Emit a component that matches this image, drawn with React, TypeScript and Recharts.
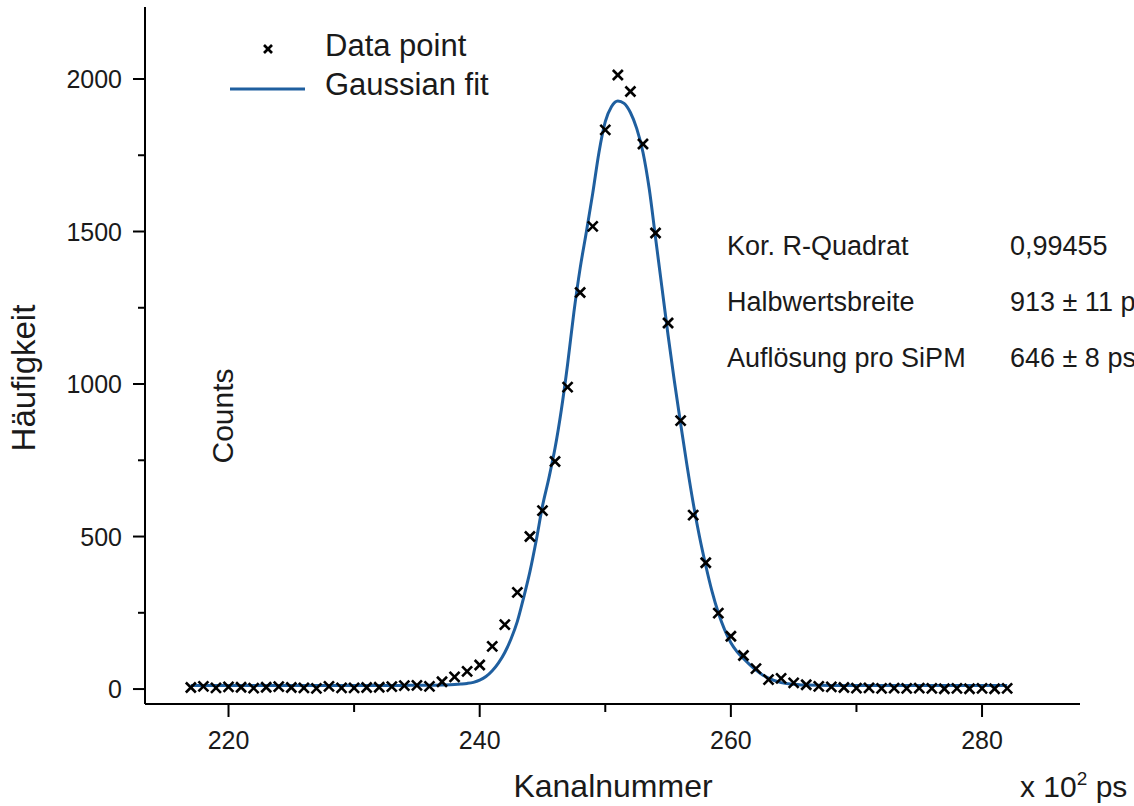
import { ComposedChart, Line, Scatter, XAxis, YAxis } from "recharts";

// measured histogram: channel number and counts per channel
const channels = [
  217, 218, 219, 220, 221, 222, 223, 224, 225, 226, 227, 228, 229, 230, 231, 232, 233,
  234, 235, 236, 237, 238, 239, 240, 241, 242, 243, 244, 245, 246, 247, 248, 249, 250,
  251, 252, 253, 254, 255, 256, 257, 258, 259, 260, 261, 262, 263, 264, 265, 266, 267,
  268, 269, 270, 271, 272, 273, 274, 275, 276, 277, 278, 279, 280, 281, 282,
];
const counts = [
  5, 9, 4, 7, 6, 3, 6, 8, 5, 4, 2, 9, 4, 4, 5, 6, 8,
  11, 12, 9, 24, 40, 58, 79, 140, 211, 317, 500, 585, 746, 990, 1300, 1517, 1833,
  2013, 1959, 1787, 1495, 1200, 880, 570, 414, 249, 173, 110, 67, 31, 35, 20, 14, 9,
  7, 5, 3, 4, 2, 3, 2, 3, 2, 1, 2, 1, 2, 1, 2,
];

// gaussian fit curve, sampled along the channel axis
const fitChannels = [
  217, 222, 227, 232, 234, 235.5, 237, 238, 238.5, 239, 239.5, 240, 240.5, 241, 241.5,
  242, 242.5, 243, 243.5, 244, 244.5, 245, 245.5, 246, 246.5, 247, 247.5, 248, 248.5,
  249, 249.5, 250, 250.5, 251, 251.5, 252, 252.5, 253, 253.5, 254, 254.5, 255, 255.5,
  256, 256.5, 257, 257.5, 258, 258.5, 259, 259.5, 260, 260.5, 261, 261.5, 262, 262.5,
  263, 264, 265, 266, 268, 272, 277, 282,
];
const fitCounts = [
  12, 12, 12, 12, 12, 12.5, 13.5, 15, 16.5, 18.5, 22, 29, 41, 60, 86,
  120, 165, 222, 300, 385, 487, 600, 690, 790, 915, 1065, 1235, 1380, 1500,
  1625, 1760, 1860, 1910, 1928, 1920, 1890, 1838, 1760, 1640, 1480, 1320, 1160, 1010,
  870, 735, 610, 500, 405, 320, 250, 195, 152, 122, 100, 80, 62, 47,
  36, 21, 16, 13, 12, 12, 12, 12,
];

const xTicks = [220, 230, 240, 250, 260, 270, 280];
const xLabelled = [220, 240, 260, 280];
const yTicks = [0, 250, 500, 750, 1000, 1250, 1500, 1750, 2000];
const yLabelled = [0, 500, 1000, 1500, 2000];

const fitStats = [
  { name: "Kor. R-Quadrat", value: "0,99455" },
  { name: "Halbwertsbreite", value: "913 ± 11 ps" },
  { name: "Auflösung pro SiPM", value: "646 ± 8 ps" },
];

const points = channels.map((x, i) => ({ x, y: counts[i] }));
const fit = fitChannels.map((x, i) => ({ x, y: fitCounts[i] }));

const FONT = "'Liberation Sans', Arial, sans-serif";
const INK = "#1a1a1a";
const BLUE = "#1f5f9f";

function Cross({ cx, cy, size = 5 }: { cx: number; cy: number; size?: number }) {
  return (
    <g stroke="#000" strokeWidth={2.6} strokeLinecap="butt">
      <line x1={cx - size} y1={cy - size} x2={cx + size} y2={cy + size} />
      <line x1={cx - size} y1={cy + size} x2={cx + size} y2={cy - size} />
    </g>
  );
}

function XTick({ x, y, payload }: any) {
  const major = xLabelled.includes(payload.value);
  return (
    <g>
      <line x1={x} y1={y} x2={x} y2={y + (major ? 13 : 8)} stroke="#000" strokeWidth={2} />
      {major && (
        <text x={x} y={y + 45} textAnchor="middle" fontSize={25} fontFamily={FONT} fill={INK}>
          {payload.value}
        </text>
      )}
    </g>
  );
}

function YTick({ x, y, payload }: any) {
  const major = yLabelled.includes(payload.value);
  return (
    <g>
      <line x1={x} y1={y} x2={x - (major ? 12 : 7)} y2={y} stroke="#000" strokeWidth={2} />
      {major && (
        <text x={x - 23} y={y + 9} textAnchor="end" fontSize={25} fontFamily={FONT} fill={INK}>
          {payload.value}
        </text>
      )}
    </g>
  );
}

export default function App() {
  return (
    <div style={{ position: "absolute", left: 0, top: 0, width: 1134, height: 806, background: "#fff" }}>
      <ComposedChart width={1134} height={806} margin={{ top: 7, right: 54, bottom: 42, left: 45 }}>
        <XAxis
          type="number"
          dataKey="x"
          domain={[213.35, 287.8]}
          ticks={xTicks}
          allowDataOverflow
          height={60}
          tickSize={0}
          tickMargin={0}
          tickLine={false}
          tick={<XTick />}
          axisLine={{ stroke: "#000", strokeWidth: 2 }}
        />
        <YAxis
          type="number"
          dataKey="y"
          domain={[-49, 2236]}
          ticks={yTicks}
          allowDataOverflow
          width={100}
          tickSize={0}
          tickMargin={0}
          tickLine={false}
          tick={<YTick />}
          axisLine={{ stroke: "#000", strokeWidth: 2 }}
        />
        <Line
          data={fit}
          dataKey="y"
          type="monotone"
          stroke={BLUE}
          strokeWidth={3}
          dot={false}
          activeDot={false}
          isAnimationActive={false}
        />
        <Scatter
          data={points}
          dataKey="y"
          shape={(p: any) => <Cross cx={p.cx} cy={p.cy} />}
          isAnimationActive={false}
        />
      </ComposedChart>

      <svg
        width={1134}
        height={806}
        style={{ position: "absolute", left: 0, top: 0, pointerEvents: "none" }}
        fontFamily={FONT}
        fill={INK}
      >
        {/* legend */}
        <Cross cx={268} cy={49} size={4} />
        <text x={325} y={56} fontSize={31}>Data point</text>
        <line x1={230} y1={89} x2={305} y2={89} stroke={BLUE} strokeWidth={3} />
        <text x={325} y={95} fontSize={31}>Gaussian fit</text>

        {/* fit results, the value column runs off the right edge */}
        {fitStats.map((s, i) => (
          <g key={s.name}>
            <text x={727} y={255 + i * 56} fontSize={27}>{s.name}</text>
            <text x={1010} y={255 + i * 56} fontSize={27}>{s.value}</text>
          </g>
        ))}

        {/* axis titles */}
        <text x={35} y={378} fontSize={33} textAnchor="middle" transform="rotate(-90 35 378)">
          Häufigkeit
        </text>
        <text x={233} y={416} fontSize={30} textAnchor="middle" transform="rotate(-90 233 416)">
          Counts
        </text>
        <text x={613} y={797} fontSize={32} textAnchor="middle">Kanalnummer</text>
        <text x={1020} y={797} fontSize={30}>
          x 10<tspan dy={-12} fontSize={19}>2</tspan>
          <tspan dy={12}> ps</tspan>
        </text>
      </svg>
    </div>
  );
}
